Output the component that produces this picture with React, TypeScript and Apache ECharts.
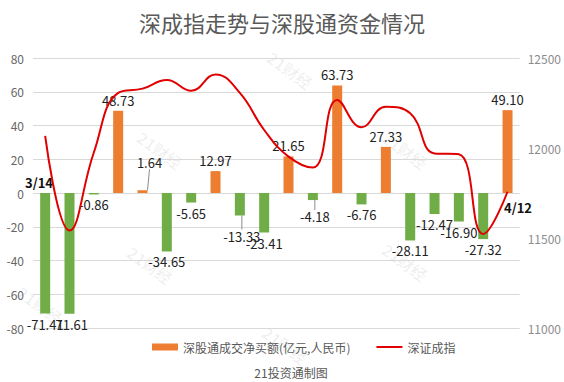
import React, { useEffect, useRef } from "react";
import * as echarts from "echarts";

const categories = [
  "3/14", "3/15", "3/16", "3/17", "3/18", "3/21", "3/22", "3/23", "3/24", "3/25",
  "3/28", "3/29", "3/30", "3/31", "4/1", "4/6", "4/7", "4/8", "4/11", "4/12",
];
const netBuy = [
  -71.41, -71.61, -0.86, 48.73, 1.64, -34.65, -5.65, 12.97, -13.33, -23.41,
  21.65, -4.18, 63.73, -6.76, 27.33, -28.11, -12.47, -16.9, -27.32, 49.1,
];
const szIndex = [
  12067, 11541, 11975, 12306, 12330, 12378, 12318, 12409, 12306, 12100,
  11952, 11891, 12267, 12115, 12229, 12193, 11970, 11965, 11522, 11757,
];
const leftTicks = { min: -80, max: 80, interval: 20 };
const rightTicks = { min: 11000, max: 12500, interval: 500 };
const labelShift: Record<number, number> = { 4: -17, 8: 10, 11: 6 };

const watermarks = [
  [290, 70], [160, 150], [405, 150], [150, 265], [405, 262], [285, 345], [40, 305],
];

export default function App() {
  const ref = useRef<HTMLDivElement>(null);
  useEffect(() => {
    const chart = echarts.init(ref.current!, undefined, { renderer: "svg" });
    const font = "'Noto Sans CJK SC', 'Microsoft YaHei', sans-serif";
    chart.setOption({
      animation: false,
      textStyle: { fontFamily: font },
      title: {
        text: "深成指走势与深股通资金情况",
        left: "center",
        top: 6,
        textStyle: { fontSize: 22, fontWeight: "normal", color: "#595959", fontFamily: font },
      },
      grid: { left: 33, right: 44, top: 58, bottom: 54 },
      legend: {
        bottom: 24,
        left: 147,
        itemGap: 26,
        itemWidth: 26,
        itemHeight: 7,
        textStyle: { color: "#595959", fontSize: 12, fontFamily: font },
        data: [
          { name: "深股通成交净买额(亿元,人民币)", icon: "rect", itemStyle: { color: "#ED7D31" } },
          { name: "深证成指", icon: "path://M0,0 L26,0 L26,2 L0,2 Z", itemStyle: { color: "#E00000" } },
        ],
      },
      xAxis: {
        type: "category",
        data: categories,
        boundaryGap: true,
        axisLine: { show: false },
        axisTick: { show: false },
        axisLabel: { show: false },
      },
      yAxis: [
        {
          type: "value",
          ...leftTicks,
          axisLine: { show: false },
          axisTick: { show: false },
          axisLabel: { color: "#666", fontSize: 12, margin: 9 },
          splitLine: { lineStyle: { color: "#d9d9d9" } },
        },
        {
          type: "value",
          ...rightTicks,
          axisLine: { show: false },
          axisTick: { show: false },
          axisLabel: { color: "#8c8c8c", fontSize: 12, margin: 8, formatter: (v: number) => String(v) },
          splitLine: { show: false },
        },
      ],
      series: [
        {
          name: "深股通成交净买额(亿元,人民币)",
          type: "bar",
          barWidth: 10,
          data: netBuy.map((v, i) => ({
            value: v,
            itemStyle: { color: v >= 0 ? "#ED7D31" : "#70AD47" },
            label: { position: v >= 0 ? "top" : "bottom" },
            labelLine: { show: labelShift[i] !== undefined },
          })),
          label: {
            show: true,
            distance: 4,
            fontSize: 13,
            color: "#222",
            fontFamily: font,
            formatter: (p: any) => p.value.toFixed(2),
          },
          labelLine: { show: true, lineStyle: { color: "#8c8c8c", width: 1 } },
          labelLayout: (p: any) => {
            const s = labelShift[p.dataIndex];
            return s !== undefined ? { dy: s, dx: p.dataIndex === 4 ? 7 : 2 } : {};
          },
          z: 2,
        },
        {
          name: "深证成指",
          type: "line",
          yAxisIndex: 1,
          data: szIndex,
          smooth: 0.45,
          showSymbol: false,
          symbol: "none",
          lineStyle: { color: "#E00000", width: 2 },
          itemStyle: { color: "#E00000" },
          z: 3,
        },
      ],
      graphic: [
        ...watermarks.map(([x, y]) => ({
          type: "text",
          x,
          y,
          rotation: -0.62,
          silent: true,
          z: -1,
          style: {
            text: "21财经",
            fill: "rgba(0,0,0,0.06)",
            font: `bold 16px ${font}`,
            align: "center",
            verticalAlign: "middle",
          },
        })),
        {
          type: "text",
          x: 39,
          y: 182,
          style: { text: "3/14", fill: "#111", font: `bold 13px ${font}`, align: "center", verticalAlign: "middle" },
        },
        {
          type: "text",
          x: 518,
          y: 207,
          style: { text: "4/12", fill: "#111", font: `bold 13px ${font}`, align: "center", verticalAlign: "middle" },
        },
        {
          type: "text",
          x: 291,
          y: 372,
          style: { text: "21投资通制图", fill: "#595959", font: `12px ${font}`, align: "center", verticalAlign: "middle" },
        },
      ],
    });
    return () => chart.dispose();
  }, []);
  return <div ref={ref} style={{ width: 564, height: 382, position: "absolute", left: 0, top: 0 }} />;
}
